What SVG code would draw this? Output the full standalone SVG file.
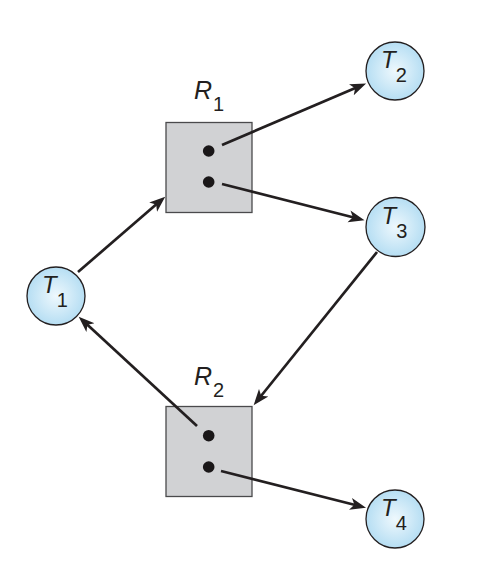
<svg xmlns="http://www.w3.org/2000/svg" width="480" height="576" viewBox="0 0 480 576">
<style>
.res{fill:#d1d2d4;stroke:#4a4a4c;stroke-width:1.3}
.dot{fill:#1a1718}
.proc{fill:url(#blue);stroke:#231f20;stroke-width:1.3}
.edge{fill:none;stroke:#231f20;stroke-width:2.7}
</style>
<defs>
<radialGradient id="blue" cx="50%" cy="50%" r="50%">
<stop offset="0%" stop-color="#eef8fd"/>
<stop offset="100%" stop-color="#b6def3"/>
</radialGradient>
<marker id="arr" markerUnits="userSpaceOnUse" markerWidth="18" markerHeight="14" viewBox="0 -7 18 14" refX="10" refY="0" orient="auto">
<path d="M0,-6 L16,0 L0,6 L4,0 Z" fill="#231f20"/>
</marker>
</defs>
<rect x="0" y="0" width="480" height="576" fill="#ffffff"/>
<g id="R1">
<rect class="res" x="166" y="122.5" width="86" height="90"/>
<circle class="dot" cx="208.7" cy="151" r="5.8"/>
<circle class="dot" cx="208.7" cy="182" r="5.8"/>
<text x="194" y="99" font-family="Liberation Sans, Arial, sans-serif" font-style="italic" font-size="25" fill="#231f20">R<tspan font-style="normal" font-size="20" dx="1" dy="12">1</tspan></text>
</g>
<g id="R2">
<rect class="res" x="166" y="406.5" width="86" height="90"/>
<circle class="dot" cx="208.7" cy="435.7" r="5.8"/>
<circle class="dot" cx="208.7" cy="467" r="5.8"/>
<text x="194" y="385" font-family="Liberation Sans, Arial, sans-serif" font-style="italic" font-size="25" fill="#231f20">R<tspan font-style="normal" font-size="20" dx="1" dy="12">2</tspan></text>
</g>
<g id="T1">
<circle class="proc" cx="56" cy="296" r="29"/>
<text x="42" y="293" font-family="Liberation Sans, Arial, sans-serif" font-style="italic" font-size="24" fill="#231f20">T<tspan font-style="normal" font-size="20" dx="0" dy="14">1</tspan></text>
</g>
<g id="T2">
<circle class="proc" cx="395" cy="71" r="29"/>
<text x="381" y="68" font-family="Liberation Sans, Arial, sans-serif" font-style="italic" font-size="24" fill="#231f20">T<tspan font-style="normal" font-size="20" dx="0" dy="14">2</tspan></text>
</g>
<g id="T3">
<circle class="proc" cx="395.5" cy="227" r="29.5"/>
<text x="381.5" y="224" font-family="Liberation Sans, Arial, sans-serif" font-style="italic" font-size="24" fill="#231f20">T<tspan font-style="normal" font-size="20" dx="0" dy="14">3</tspan></text>
</g>
<g id="T4">
<circle class="proc" cx="395" cy="519" r="29"/>
<text x="381" y="516" font-family="Liberation Sans, Arial, sans-serif" font-style="italic" font-size="24" fill="#231f20">T<tspan font-style="normal" font-size="20" dx="0" dy="14">4</tspan></text>
</g>
<g id="connectors">
<line class="edge" x1="78" y1="272" x2="160.7" y2="200.6" marker-end="url(#arr)"/>
<line class="edge" x1="222" y1="145" x2="360.6" y2="85.8" marker-end="url(#arr)"/>
<line class="edge" x1="222" y1="184" x2="358.7" y2="218.8" marker-end="url(#arr)"/>
<line class="edge" x1="377" y1="252" x2="257.4" y2="400.5" marker-end="url(#arr)"/>
<line class="edge" x1="197" y1="426" x2="83.1" y2="320.8" marker-end="url(#arr)"/>
<line class="edge" x1="221" y1="471" x2="360.2" y2="506.3" marker-end="url(#arr)"/>
</g>
</svg>
